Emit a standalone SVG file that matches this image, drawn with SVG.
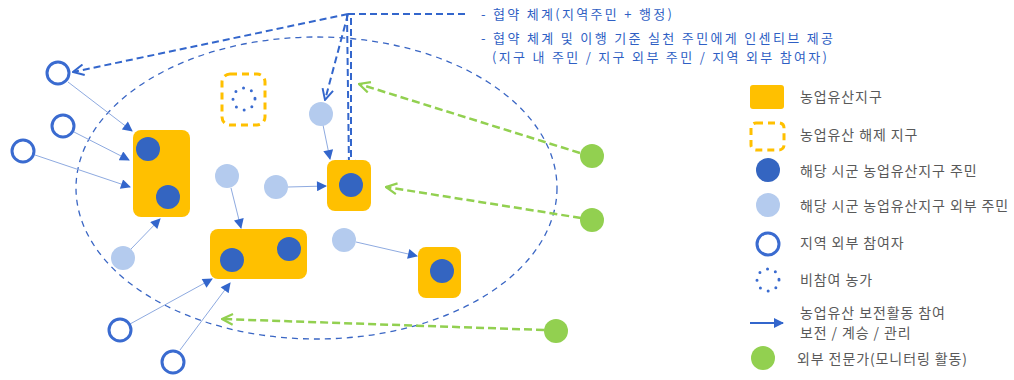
<svg xmlns="http://www.w3.org/2000/svg" width="1014" height="380" viewBox="0 0 1014 380">
<style>
.zone{fill:#ffc000}
.zoneoff{fill:none;stroke:#ffc000;stroke-width:3;stroke-dasharray:7 5}
.res{fill:#3465c1}
.out{fill:#b4cbee}
.ext{fill:none;stroke:#3a6bd0;stroke-width:3}
.non{fill:none;stroke:#3a6bd0;stroke-width:3;stroke-linecap:round;stroke-dasharray:0 8.5}
.exp{fill:#92d050}
.thin{stroke:#8eaae0;stroke-width:1;fill:none;marker-end:url(#tri)}
.gov{stroke:#3366cc;stroke-width:2;stroke-dasharray:7 4;fill:none}
.govA{marker-end:url(#vb)}
.grn{stroke:#92d050;stroke-width:2.5;stroke-dasharray:8 4;fill:none;marker-end:url(#vg)}
.ell{fill:none;stroke:#3a66c4;stroke-width:1.3;stroke-dasharray:6 5}
.lt{font-family:"Noto Sans CJK KR","Liberation Sans",sans-serif;font-size:14px;letter-spacing:0.9px;fill:#595959}
.tt{font-family:"Noto Sans CJK KR","Liberation Sans",sans-serif;font-size:13px;fill:#2f5fc4}
</style>
<defs>
<marker id="tri" markerUnits="userSpaceOnUse" viewBox="0 0 10 10" refX="9" refY="5" markerWidth="11" markerHeight="10" orient="auto"><path d="M0,0 L10,5 L0,10 z" fill="#3366cc"/></marker>
<marker id="vb" markerUnits="userSpaceOnUse" viewBox="0 0 12 12" refX="11" refY="6" markerWidth="13" markerHeight="13" orient="auto"><path d="M1,1 L11,6 L1,11" fill="none" stroke="#3366cc" stroke-width="1.8"/></marker>
<marker id="vg" markerUnits="userSpaceOnUse" viewBox="0 0 12 12" refX="11" refY="6" markerWidth="13" markerHeight="13" orient="auto"><path d="M1,1 L11,6 L1,11" fill="none" stroke="#92d050" stroke-width="2"/></marker>
</defs>

<ellipse class="ell" cx="316.5" cy="188" rx="240.5" ry="151"/>

<g id="connectors">
<line class="thin" x1="68" y1="82" x2="132" y2="131"/>
<line class="thin" x1="74" y1="132" x2="129" y2="160"/>
<line class="thin" x1="35" y1="155" x2="130" y2="187"/>
<line class="thin" x1="131" y1="249" x2="160" y2="219"/>
<line class="thin" x1="231" y1="188" x2="241" y2="228"/>
<line class="thin" x1="288" y1="187" x2="326" y2="186"/>
<line class="thin" x1="323" y1="125" x2="330" y2="159"/>
<line class="thin" x1="356" y1="242" x2="417" y2="256"/>
<line class="thin" x1="130" y1="324" x2="212" y2="279"/>
<line class="thin" x1="180" y1="350" x2="230" y2="283"/>

<line class="gov" x1="348" y1="14" x2="468" y2="14"/>
<line class="gov govA" x1="348" y1="14" x2="73" y2="72"/>
<line class="gov govA" x1="348" y1="14" x2="325" y2="100"/>
<line class="gov" x1="347" y1="14" x2="349" y2="168"/>
<line class="gov govA" x1="351" y1="18" x2="351" y2="171"/>

<line class="grn" x1="580" y1="153" x2="359" y2="84"/>
<line class="grn" x1="581" y1="218" x2="386" y2="187"/>
<line class="grn" x1="544" y1="330" x2="222" y2="319"/>
</g>

<g id="zoneA"><rect class="zone" x="133" y="130" width="57" height="87" rx="8"/><circle class="res" cx="148" cy="149" r="12"/><circle class="res" cx="168" cy="197" r="12"/></g>
<g id="zoneB"><rect class="zone" x="210" y="229" width="97" height="50" rx="8"/><circle class="res" cx="232" cy="260" r="12"/><circle class="res" cx="289" cy="249" r="12"/></g>
<g id="zoneC"><rect class="zone" x="327" y="160" width="44" height="51" rx="8"/><circle class="res" cx="351" cy="185" r="12"/></g>
<g id="zoneD"><rect class="zone" x="418" y="247" width="43" height="51" rx="8"/><circle class="res" cx="442" cy="271" r="12"/></g>
<g id="zoneOff"><rect class="zoneoff" x="222" y="74" width="43" height="51" rx="8"/><circle class="non" cx="244" cy="99" r="11"/></g>

<g id="ext1"><circle class="ext" cx="58" cy="73" r="11"/></g>
<g id="ext2"><circle class="ext" cx="63" cy="126" r="11"/></g>
<g id="ext3"><circle class="ext" cx="23" cy="151" r="11"/></g>
<g id="ext4"><circle class="ext" cx="120" cy="330" r="11"/></g>
<g id="ext5"><circle class="ext" cx="173" cy="362" r="11"/></g>

<g id="out1"><circle class="out" cx="321" cy="114" r="12"/></g>
<g id="out2"><circle class="out" cx="227" cy="176" r="12"/></g>
<g id="out3"><circle class="out" cx="276" cy="187" r="12"/></g>
<g id="out4"><circle class="out" cx="123" cy="258" r="12"/></g>
<g id="out5"><circle class="out" cx="344" cy="240" r="12"/></g>

<g id="exp1"><circle class="exp" cx="592" cy="156" r="12"/></g>
<g id="exp2"><circle class="exp" cx="592" cy="220" r="12"/></g>
<g id="exp3"><circle class="exp" cx="556" cy="331" r="12"/></g>

<g id="govText">
<text class="tt" x="481" y="19" textLength="191" lengthAdjust="spacing">- 협약 체계(지역주민 + 행정)</text>
<text class="tt" x="481" y="43" textLength="352" lengthAdjust="spacing">- 협약 체계 및 이행 기준 실천 주민에게 인센티브 제공</text>
<text class="tt" x="492" y="62" textLength="335" lengthAdjust="spacing">(지구 내 주민 / 지구 외부 주민 / 지역 외부 참여자)</text>
</g>

<g id="legend">
<rect class="zone" x="750" y="85" width="34" height="24" rx="3"/>
<text class="lt" x="800" y="102">농업유산지구</text>
<rect class="zoneoff" x="751" y="123" width="33" height="27" rx="5"/>
<text class="lt" x="800" y="140">농업유산 해제 지구</text>
<circle class="res" cx="768" cy="170" r="12"/>
<text class="lt" x="800" y="176">해당 시군 농업유산지구 주민</text>
<circle class="out" cx="768" cy="205" r="12"/>
<text class="lt" x="800" y="211">해당 시군 농업유산지구 외부 주민</text>
<circle class="ext" cx="768" cy="244" r="11"/>
<text class="lt" x="800" y="248">지역 외부 참여자</text>
<circle class="non" cx="768" cy="280" r="11"/>
<text class="lt" x="800" y="285">비참여 농가</text>
<line x1="750" y1="323" x2="783" y2="323" stroke="#3366cc" stroke-width="2" marker-end="url(#tri)"/>
<text class="lt" x="800" y="318">농업유산 보전활동 참여</text>
<text class="lt" x="800" y="338">보전 / 계승 / 관리</text>
<circle class="exp" cx="763" cy="358" r="12"/>
<text class="lt" x="797" y="364">외부 전문가(모니터링 활동)</text>
</g>
</svg>
